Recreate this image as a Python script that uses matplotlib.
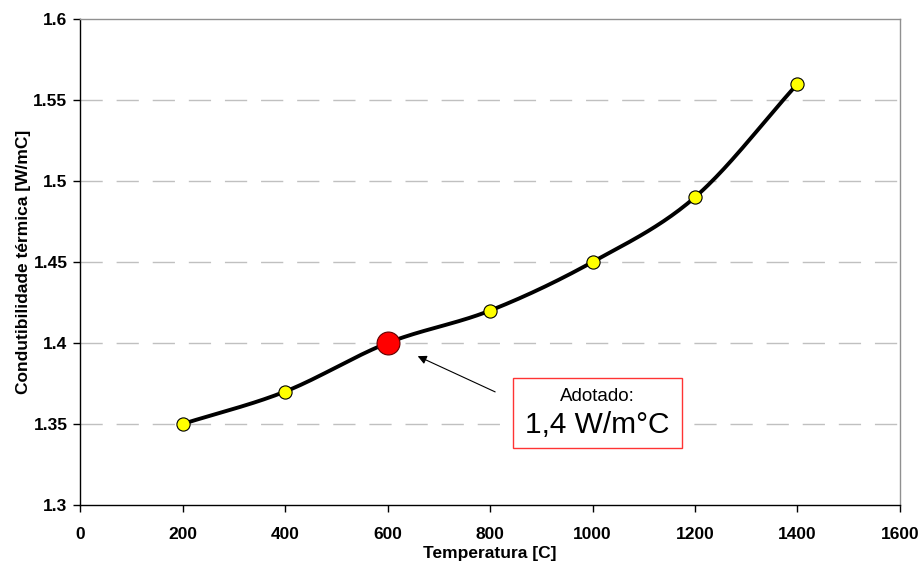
import numpy as np
import matplotlib
matplotlib.use("Agg")
import matplotlib.pyplot as plt

plt.rcParams['font.family'] = ['Liberation Sans', 'DejaVu Sans']

# Thermal conductivity vs temperature
temperatura = [200, 400, 600, 800, 1000, 1200, 1400]
condutibilidade = [1.35, 1.37, 1.40, 1.42, 1.45, 1.49, 1.56]
adotado_t = 600
adotado_k = 1.40

x_ticks = [0, 200, 400, 600, 800, 1000, 1200, 1400, 1600]
y_ticks = [1.3, 1.35, 1.4, 1.45, 1.5, 1.55, 1.6]
y_tick_labels = ["1.3", "1.35", "1.4", "1.45", "1.5", "1.55", "1.6"]


def smooth_curve(xs, ys, n=40):
    """Catmull-Rom spline through the points (smoothed line style)."""
    xs = np.asarray(xs, float)
    ys = np.asarray(ys, float)
    px = np.concatenate([[2 * xs[0] - xs[1]], xs, [2 * xs[-1] - xs[-2]]])
    py = np.concatenate([[2 * ys[0] - ys[1]], ys, [2 * ys[-1] - ys[-2]]])
    t = np.linspace(0, 1, n)
    out_x, out_y = [], []
    for i in range(1, len(px) - 2):
        for p, out in ((px, out_x), (py, out_y)):
            p0, p1, p2, p3 = p[i - 1], p[i], p[i + 1], p[i + 2]
            seg = 0.5 * ((2 * p1) + (-p0 + p2) * t
                         + (2 * p0 - 5 * p1 + 4 * p2 - p3) * t ** 2
                         + (-p0 + 3 * p1 - 3 * p2 + p3) * t ** 3)
            out.extend(seg)
    return np.array(out_x), np.array(out_y)


fig = plt.figure(figsize=(9.23, 5.63), dpi=100)
ax = fig.add_axes([80 / 923, 58 / 563, 820 / 923, 486 / 563])

ax.set_xlim(0, 1600)
ax.set_ylim(1.3, 1.6)
ax.set_xticks(x_ticks)
ax.set_yticks(y_ticks)
ax.set_xticklabels([str(v) for v in x_ticks])
ax.set_yticklabels(y_tick_labels)

for lbl in ax.get_xticklabels() + ax.get_yticklabels():
    lbl.set_fontweight('bold')
    lbl.set_fontsize(12.5)

ax.tick_params(axis='both', direction='out', length=5, width=1, color='black')
ax.tick_params(axis='x', pad=11)
ax.tick_params(axis='y', pad=4)

# Horizontal dashed gridlines
for yv in y_ticks[1:-1]:
    ax.axhline(yv, color='#c0c0c0', lw=1, linestyle=(0, (16, 10)), zorder=0)

ax.spines['left'].set_color('black')
ax.spines['bottom'].set_color('black')
ax.spines['top'].set_color('#909090')
ax.spines['right'].set_color('#909090')
for s in ax.spines.values():
    s.set_linewidth(1)

sx, sy = smooth_curve(temperatura, condutibilidade)
ax.plot(sx, sy, color='black', lw=2.8, solid_capstyle='round', zorder=2)
ax.plot(temperatura, condutibilidade, linestyle='none', marker='o',
        markersize=9.5, markerfacecolor='#ffff00', markeredgecolor='black',
        markeredgewidth=0.8, zorder=3)
ax.plot([adotado_t], [adotado_k], linestyle='none', marker='o',
        markersize=16.5, markerfacecolor='#ff0000', markeredgecolor='#600000',
        markeredgewidth=0.8, zorder=4)

ax.set_xlabel('Temperatura [C]', fontsize=12.5, fontweight='bold', labelpad=3)
ax.set_ylabel('Condutibilidade térmica [W/mC]', fontsize=12.5,
              fontweight='bold', labelpad=2)

# Annotation arrow and text box
ax.annotate('', xy=(654, 1.3926), xytext=(815, 1.3691),
            arrowprops=dict(arrowstyle='-|>', color='black', lw=0.8,
                            mutation_scale=13))

box = plt.Rectangle((845, 1.3352), 330, 0.0432, transform=ax.transData,
                    facecolor='white', edgecolor='#ff3333', lw=1, zorder=5)
ax.add_patch(box)
ax.text(1010, 1.3667, 'Adotado:', ha='center', va='center', fontsize=13.5,
        zorder=6)
ax.text(1010, 1.3494, '1,4 W/m°C', ha='center', va='center', fontsize=21.5,
        zorder=6)

fig.savefig('out.png', dpi=100)
